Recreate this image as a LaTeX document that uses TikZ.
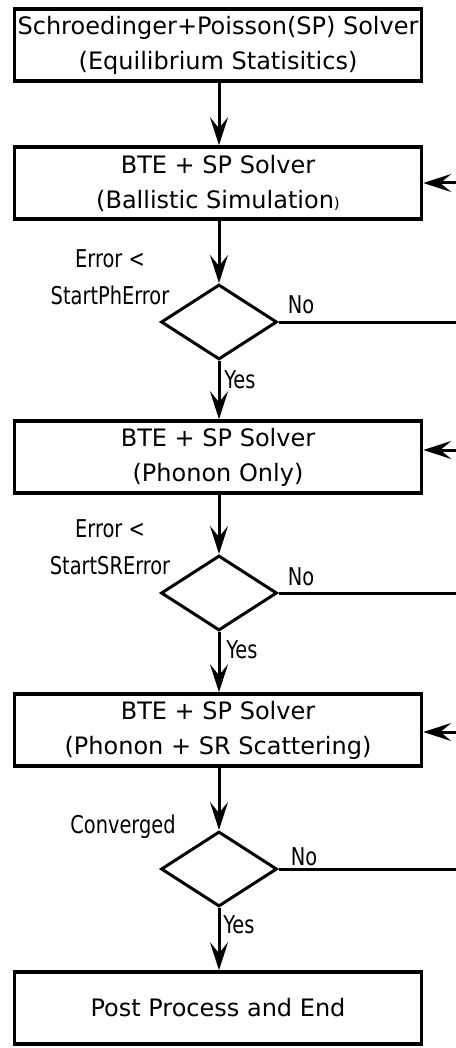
\documentclass[tikz,border=0pt]{standalone}
\usepackage{fontspec}
\setmainfont{DejaVu Sans}
\newfontfamily\condfont[FakeStretch=0.88]{DejaVu Sans Condensed}
\usetikzlibrary{shapes.geometric,arrows.meta}
\begin{document}
\begin{tikzpicture}[x=1pt,y=-1pt,
  box/.style={draw,line width=3.5pt,minimum width=407pt,minimum height=72pt,inner sep=0pt,align=center,font=\fontsize{24}{35}\selectfont},
  dec/.style={draw,diamond,line width=3pt,minimum width=116pt,minimum height=75pt,inner sep=0pt},
  lbl/.style={font=\condfont\fontsize{24.5}{37}\selectfont,align=center,inner sep=0pt},
  flow/.style={line width=3pt,-{Stealth[length=28pt,width=18pt,inset=11pt]}},
  noline/.style={line width=3pt}]
\useasboundingbox (0,0) rectangle (455,1048);
% boxes
\node[box] (b1) at (218,45) {Schroedinger+Poisson(SP) Solver\\(Equilibrium Statisitics)};
\node[box] (b2) at (218,183) {BTE + SP Solver\\(Ballistic Simulation{\fontsize{15}{15}\selectfont)}};
\node[box] (b3) at (218,457) {BTE + SP Solver\\(Phonon Only)};
\node[box] (b4) at (218,730) {BTE + SP Solver\\(Phonon + SR Scattering)};
\node[box] (b5) at (218,1008) {Post Process and End};
% decisions
\node[dec] (d1) at (219,322) {};
\node[dec] (d2) at (219,593) {};
\node[dec] (d3) at (219,869) {};
% labels
\node[lbl] (l1) at (110,277) {Error <\\StartPhError};
\node[lbl] (l2) at (110,547) {Error <\\StartSRError};
\node[lbl] (l3) at (123,827) {Converged};
\node[lbl] (n1) at (301,305) {No};
\node[lbl] (n2) at (301,577) {No};
\node[lbl] (n3) at (304,857) {No};
\node[lbl] (y1) at (240,380) {Yes};
\node[lbl] (y2) at (242,650) {Yes};
\node[lbl] (y3) at (239,925) {Yes};
% right edge coordinates
\coordinate (e1) at (458,183);
\coordinate (e2) at (458,450);
\coordinate (e3) at (458,732);
\coordinate (f1) at (458,322);
\coordinate (f2) at (458,593);
\coordinate (f3) at (458,869);
% connectors
\draw[flow] (b1.south -| d1) -- (b2.north -| d1);
\draw[flow] (b2.south -| d1) -- (d1.north);
\draw[flow] (d1.south) -- (b3.north -| d1);
\draw[flow] (b3.south -| d1) -- (d2.north);
\draw[flow] (d2.south) -- (b4.north -| d1);
\draw[flow] (b4.south -| d1) -- (d3.north);
\draw[flow] (d3.south) -- (b5.north -| d1);
\draw[noline] (d1.east) -- (f1);
\draw[noline] (d2.east) -- (f2);
\draw[noline] (d3.east) -- (f3);
\draw[flow] (e1) -- (b2.east |- e1);
\draw[flow] (e2) -- (b3.east |- e2);
\draw[flow] (e3) -- (b4.east |- e3);
\end{tikzpicture}
\end{document}
